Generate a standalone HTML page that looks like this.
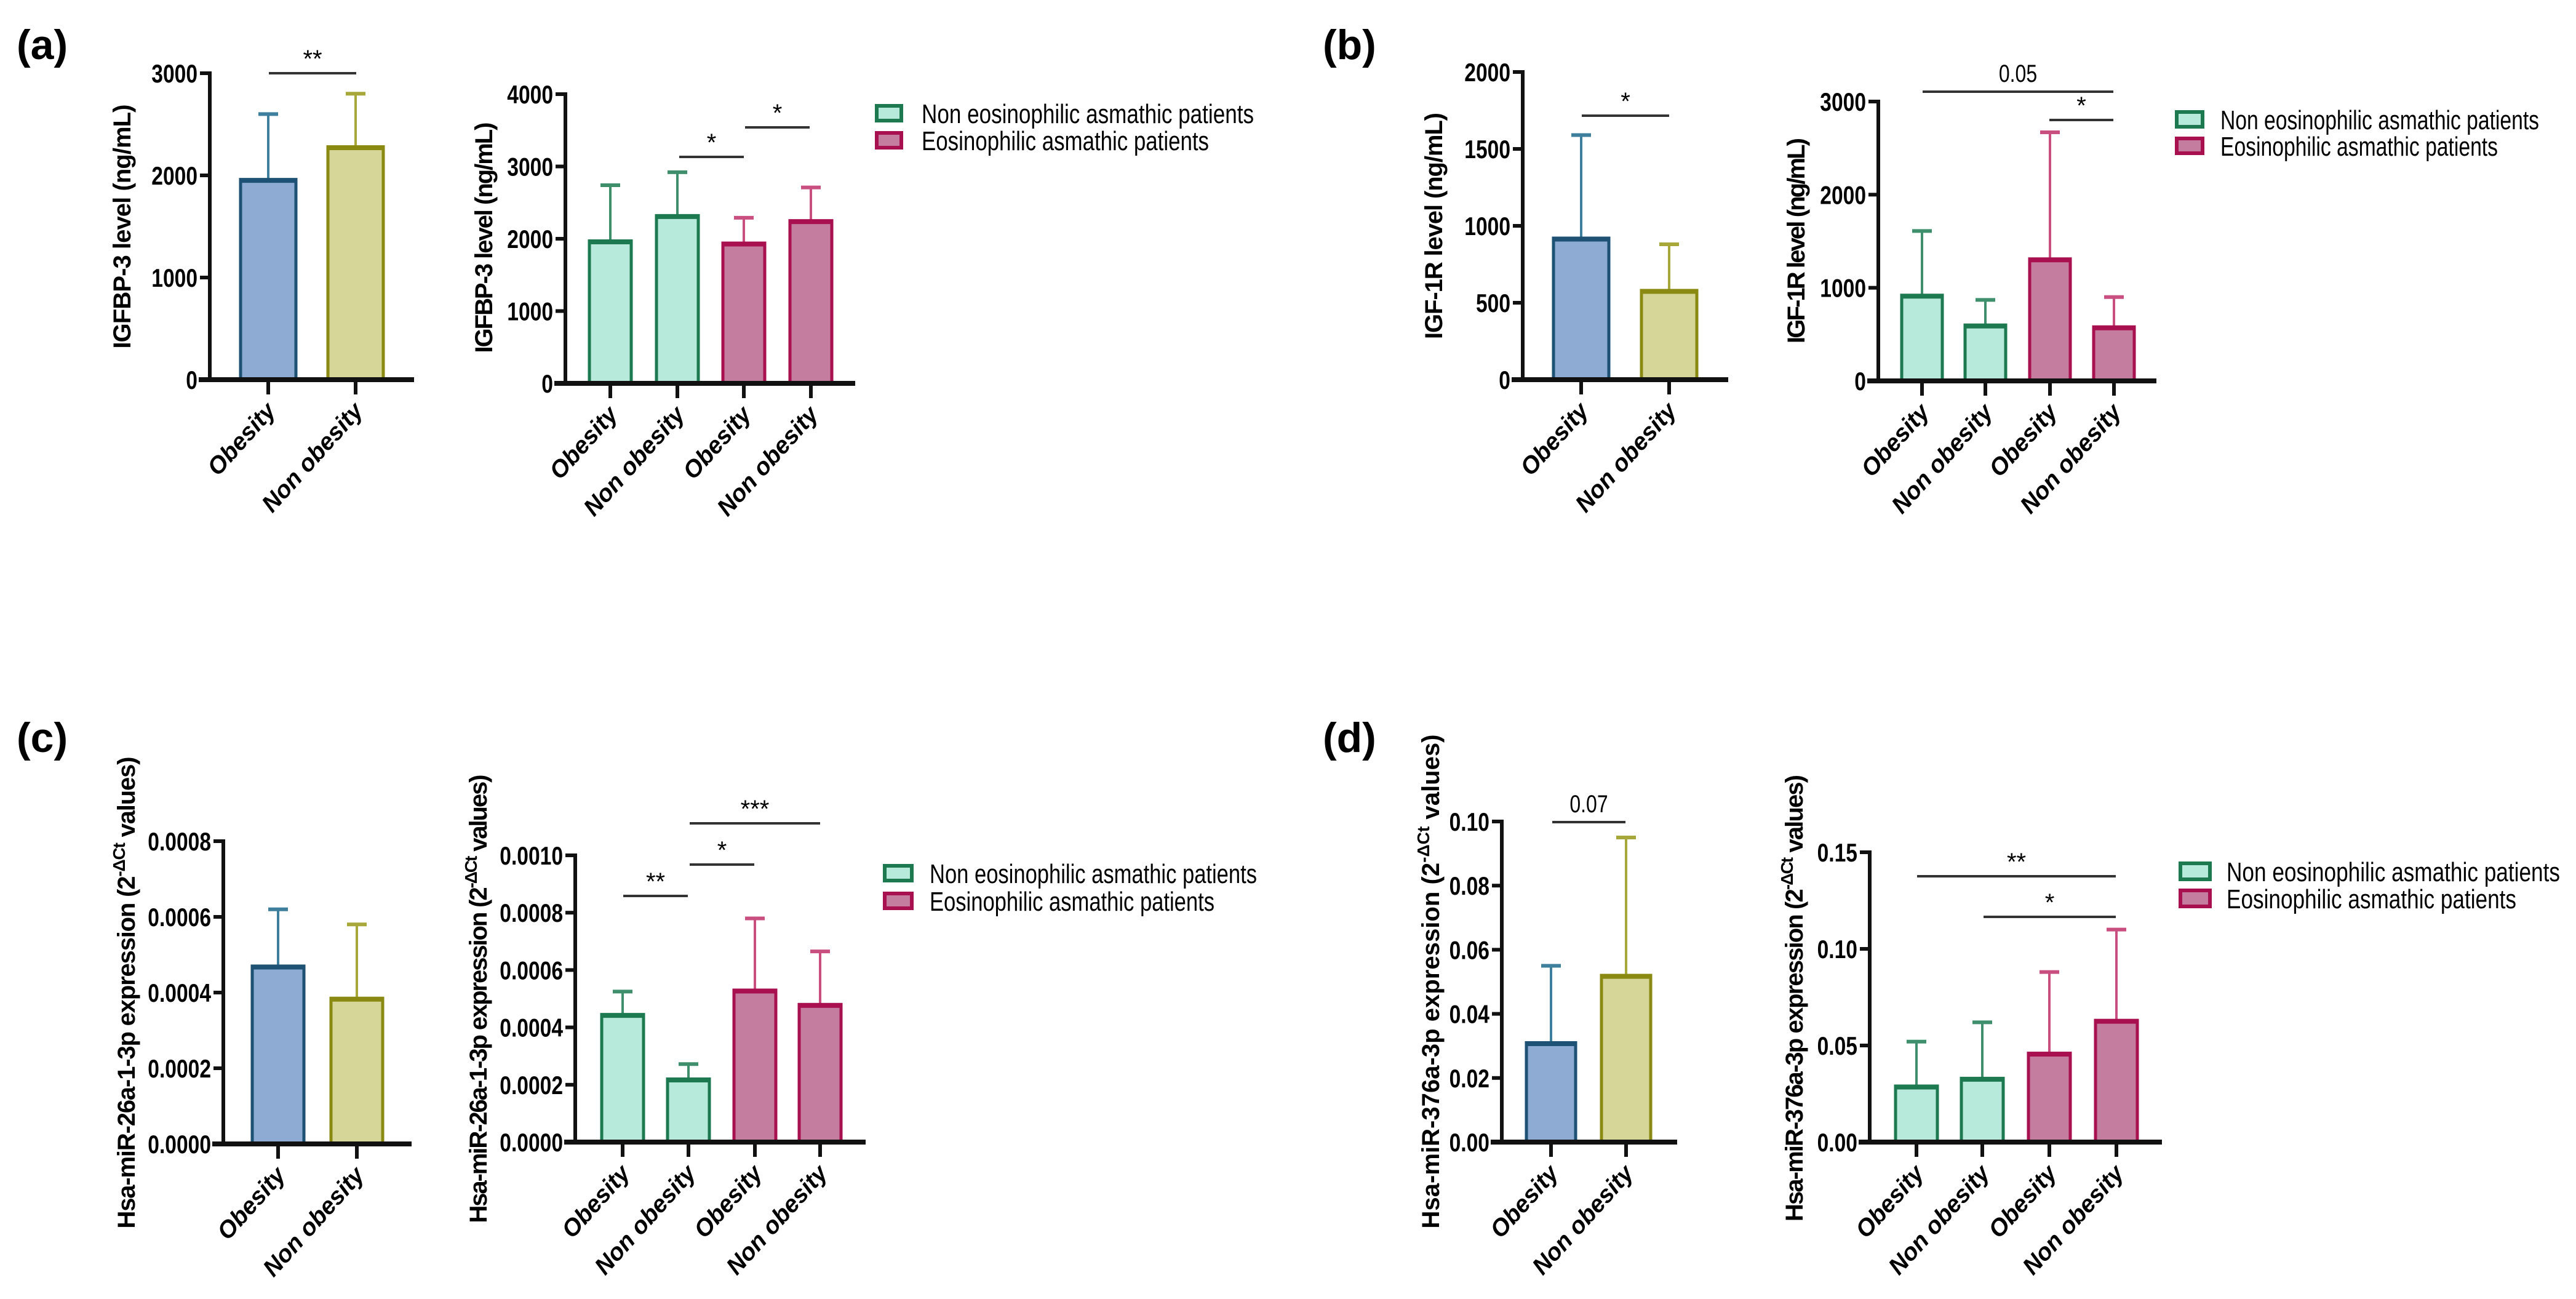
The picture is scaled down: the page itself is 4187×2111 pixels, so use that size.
<!DOCTYPE html>
<html><head><meta charset="utf-8"><style>
html,body{margin:0;padding:0;background:#fff}
svg{display:block}
text{font-family:"Liberation Sans","DejaVu Sans",sans-serif}
.tick{font-family:"Liberation Sans",sans-serif;font-weight:bold;font-size:42px}
.leg{font-family:"Liberation Sans",sans-serif;font-size:44px}
</style></head><body>
<svg id="fig" width="4187" height="2111" viewBox="0 0 4187 2111" xmlns="http://www.w3.org/2000/svg">
<text x="27" y="96" font-size="68" font-weight="bold">(a)</text>
<text x="2150" y="96" font-size="68" font-weight="bold">(b)</text>
<text x="27" y="1222" font-size="68" font-weight="bold">(c)</text>
<text x="2150" y="1222" font-size="68" font-weight="bold">(d)</text>
</svg>
<script>
// ---- data ----
const catsTwo = ["Obesity","Non obesity"];
const catsFour = ["Obesity","Non obesity","Obesity","Non obesity"];
const aLeftVals = [1960, 2280];
const aLeftErr = [2600, 2800];
const aLeftTicks = [0, 1000, 2000, 3000];
const aRightVals = [1970, 2320, 1940, 2250];
const aRightErr = [2740, 2920, 2290, 2710];
const aRightTicks = [0, 1000, 2000, 3000, 4000];
const bLeftVals = [920, 580];
const bLeftErr = [1590, 880];
const bLeftTicks = [0, 500, 1000, 1500, 2000];
const bRightVals = [920, 600, 1310, 580];
const bRightErr = [1610, 870, 2670, 900];
const bRightTicks = [0, 1000, 2000, 3000];
const cLeftVals = [0.00047, 0.000385];
const cLeftErr = [0.00062, 0.00058];
const cLeftTicks = [0, 0.0002, 0.0004, 0.0006, 0.0008];
const cLeftTickLabels = ["0.0000","0.0002","0.0004","0.0006","0.0008"];
const cRightVals = [0.000445, 0.00022, 0.00053, 0.00048];
const cRightErr = [0.000525, 0.000272, 0.00078, 0.000665];
const cRightTicks = [0, 0.0002, 0.0004, 0.0006, 0.0008, 0.0010];
const cRightTickLabels = ["0.0000","0.0002","0.0004","0.0006","0.0008","0.0010"];
const dLeftVals = [0.031, 0.052];
const dLeftErr = [0.055, 0.095];
const dLeftTicks = [0, 0.02, 0.04, 0.06, 0.08, 0.10];
const dLeftTickLabels = ["0.00","0.02","0.04","0.06","0.08","0.10"];
const dRightVals = [0.029, 0.033, 0.046, 0.063];
const dRightErr = [0.052, 0.062, 0.088, 0.110];
const dRightTicks = [0, 0.05, 0.10, 0.15];
const dRightTickLabels = ["0.00","0.05","0.10","0.15"];

const NS="http://www.w3.org/2000/svg";
const svg=document.getElementById('fig');
function mk(tag,attrs,parent){const e=document.createElementNS(NS,tag);for(const k in attrs)e.setAttribute(k,attrs[k]);(parent||svg).appendChild(e);return e;}
const STY={
 blue:{fill:"#8eabd3",stroke:"#1d5274",err:"#3d7f9c"},
 yel:{fill:"#d6d699",stroke:"#8a8a12",err:"#a8a83a"},
 grn:{fill:"#b8eadb",stroke:"#1d7a50",err:"#3f8f6c"},
 pink:{fill:"#c47d9e",stroke:"#a8104f",err:"#c84f80"}
};
function chart(o){
 const g=mk('g',{});
 
 
 const y=v=>o.y0-(v-o.min)/(o.max-o.min)*(o.y0-o.yTop);
 o.vals.forEach((v,i)=>{
  const s=STY[o.styles[i]];
  const cx=o.xs[i];
  const eb=mk('g',{},g);
  
  
  mk('line',{x1:cx,x2:cx,y1:y(v),y2:y(o.err[i]),stroke:s.err,'stroke-width':4},eb);
  mk('line',{x1:cx-16,x2:cx+16,y1:y(o.err[i]),y2:y(o.err[i]),stroke:s.err,'stroke-width':6},eb);
  const r=mk('rect',{x:cx-o.bw/2,y:y(v),width:o.bw,height:o.y0-y(v),fill:s.fill,stroke:s.stroke,'stroke-width':5},g);
  
  
  mk('line',{x1:cx-o.bw/2,x2:cx+o.bw/2,y1:y(v)+2,y2:y(v)+2,stroke:s.stroke,'stroke-width':7},g);
 });
 const ya=mk('g',{},g);
 
 
 mk('line',{x1:o.ax,x2:o.ax,y1:y(o.max)-3,y2:o.y0,stroke:'#111','stroke-width':6},ya);
 o.ticks.forEach((t,i)=>{
  mk('line',{x1:o.ax-16,x2:o.ax,y1:y(t),y2:y(t),stroke:'#111','stroke-width':6},ya);
  const tl=mk('text',{x:0,y:0,'text-anchor':'end',class:'tick',transform:`translate(${o.ax-20} ${y(t)+15}) scale(0.8 1)`},ya);
  
  
  tl.textContent=o.tickLabels?o.tickLabels[i]:String(t);
 });
 const xa=mk('g',{},g);
 
 
 mk('line',{x1:o.ax-18,x2:o.xEnd,y1:o.y0,y2:o.y0,stroke:'#111','stroke-width':8},xa);
 o.cats.forEach((c,i)=>{
  const cx=o.xs[i];
  mk('line',{x1:cx,x2:cx,y1:o.y0,y2:o.y0+24,stroke:'#111','stroke-width':6},xa);
  const tx=cx+14, ty=o.y0+52;
  const t=mk('text',{x:tx,y:ty,'text-anchor':'end','font-size':39,'font-weight':'bold','font-style':'italic',transform:`rotate(-48 ${tx} ${ty})`},xa);
  
  
  t.textContent=c;
 });
 const tt=mk('text',{x:0,y:0,'text-anchor':'middle','font-size':40,'font-weight':'bold',textLength:o.titleLen,lengthAdjust:'spacing',transform:`translate(${o.titleX} ${o.titleY}) rotate(-90)`},g);
 
 
 if(o.dct){
  const a=mk('tspan',{},tt);a.textContent=o.title+" (2";
  const b=mk('tspan',{dy:-16,'font-size':28},tt);b.textContent="-ΔCt";
  const c=mk('tspan',{dy:16},tt);c.textContent=" values)";
 } else tt.textContent=o.title;
 (o.sig||[]).forEach(s=>{
  const sg=mk('g',{},g);
  
  
  mk('line',{x1:s.x1,x2:s.x2,y1:s.y,y2:s.y,stroke:'#333','stroke-width':4},sg);
  const cx=(s.x1+s.x2)/2, ty=s.y-(s.p?16:10);
  const st=mk('text',{x:0,y:0,'text-anchor':'middle','font-size':s.p?40:40,transform:`translate(${cx} ${ty}) scale(${s.p?0.8:1} 1)`},sg);
  st.textContent=s.t;
 });
}
function legend(x,y1,y2,tx,w,h,l1,l2){
 const g=mk('g',{});
 
 
 [[y1,'grn','Non eosinophilic asmathic patients',l1],[y2,'pink','Eosinophilic asmathic patients',l2]].forEach(([yy,k,l,len])=>{
  const e=mk('g',{},g);
  
  
  mk('rect',{x:x,y:yy-h/2,width:w,height:h,fill:STY[k].fill,stroke:STY[k].stroke,'stroke-width':6},e);
  const t=mk('text',{x:tx,y:yy+16,class:'leg',textLength:len,lengthAdjust:'spacingAndGlyphs'},e);t.textContent=l;
 });
}
const G2=['blue','yel'], G4=['grn','grn','pink','pink'];
chart({name:'chart-a-left',vals:aLeftVals,err:aLeftErr,ticks:aLeftTicks,min:0,max:3000,y0:617,yTop:119,ax:341,xEnd:673,xs:[436,578],bw:90,styles:G2,cats:catsTwo,title:'IGFBP-3 level (ng/mL)',titleX:212,titleY:368,titleLen:397,sig:[{x1:437,x2:579,y:119,t:'**'}]});
chart({name:'chart-a-right',vals:aRightVals,err:aRightErr,ticks:aRightTicks,min:0,max:4000,y0:623,yTop:153,ax:919,xEnd:1390,xs:[992,1101,1209,1318],bw:68,styles:G4,cats:catsFour,title:'IGFBP-3 level (ng/mL)',titleX:800,titleY:386,titleLen:375,sig:[{x1:1104,x2:1209,y:255,t:'*'},{x1:1211,x2:1316,y:207,t:'*'}]});
legend(1425,184,228,1498,40,24,540,467);
chart({name:'chart-b-left',vals:bLeftVals,err:bLeftErr,ticks:bLeftTicks,min:0,max:2000,y0:617,yTop:117,ax:2475,xEnd:2809,xs:[2570,2713],bw:90,styles:G2,cats:catsTwo,title:'IGF-1R level (ng/mL)',titleX:2344,titleY:367,titleLen:368,sig:[{x1:2571,x2:2713,y:188,t:'*'}]});
chart({name:'chart-b-right',vals:bRightVals,err:bRightErr,ticks:bRightTicks,min:0,max:3000,y0:619,yTop:165,ax:3053,xEnd:3505,xs:[3124,3227,3332,3436],bw:66,styles:G4,cats:catsFour,title:'IGF-1R level (ng/mL)',titleX:2933,titleY:391,titleLen:334,sig:[{x1:3125,x2:3435,y:149,t:'0.05',p:true},{x1:3331,x2:3435,y:195,t:'*'}]});
legend(3538,194,237,3609,42,24,518,451);
chart({name:'chart-c-left',vals:cLeftVals,err:cLeftErr,ticks:cLeftTicks,tickLabels:cLeftTickLabels,min:0,max:0.0008,y0:1859,yTop:1367,ax:363,xEnd:669,xs:[452,580],bw:84,styles:G2,cats:catsTwo,title:'Hsa-miR-26a-1-3p expression',dct:true,titleX:219,titleY:1613,titleLen:767});
chart({name:'chart-c-right',vals:cRightVals,err:cRightErr,ticks:cRightTicks,tickLabels:cRightTickLabels,min:0,max:0.0010,y0:1856,yTop:1390,ax:935,xEnd:1407,xs:[1012,1119,1227,1333],bw:68,styles:G4,cats:catsFour,title:'Hsa-miR-26a-1-3p expression',dct:true,titleX:791,titleY:1623,titleLen:729,sig:[{x1:1013,x2:1118,y:1456,t:'**'},{x1:1121,x2:1226,y:1405,t:'*'},{x1:1121,x2:1333,y:1338,t:'***'}]});
legend(1438,1419,1464,1511,44,24,532,463);
chart({name:'chart-d-left',vals:dLeftVals,err:dLeftErr,ticks:dLeftTicks,tickLabels:dLeftTickLabels,min:0,max:0.10,y0:1856,yTop:1335,ax:2441,xEnd:2726,xs:[2521,2643],bw:80,styles:G2,cats:catsTwo,title:'Hsa-miR-376a-3p expression',dct:true,titleX:2339,titleY:1595,titleLen:803,sig:[{x1:2523,x2:2642,y:1336,t:'0.07',p:true}]});
chart({name:'chart-d-right',vals:dRightVals,err:dRightErr,ticks:dRightTicks,tickLabels:dRightTickLabels,min:0,max:0.15,y0:1856,yTop:1385,ax:3039,xEnd:3514,xs:[3115,3222,3331,3440],bw:68,styles:G4,cats:catsFour,title:'Hsa-miR-376a-3p expression',dct:true,titleX:2930,titleY:1622,titleLen:726,sig:[{x1:3116,x2:3439,y:1424,t:'**'},{x1:3224,x2:3439,y:1490,t:'*'}]});
legend(3544,1416,1460,3619,48,26,542,471);
</script>
</body></html>
